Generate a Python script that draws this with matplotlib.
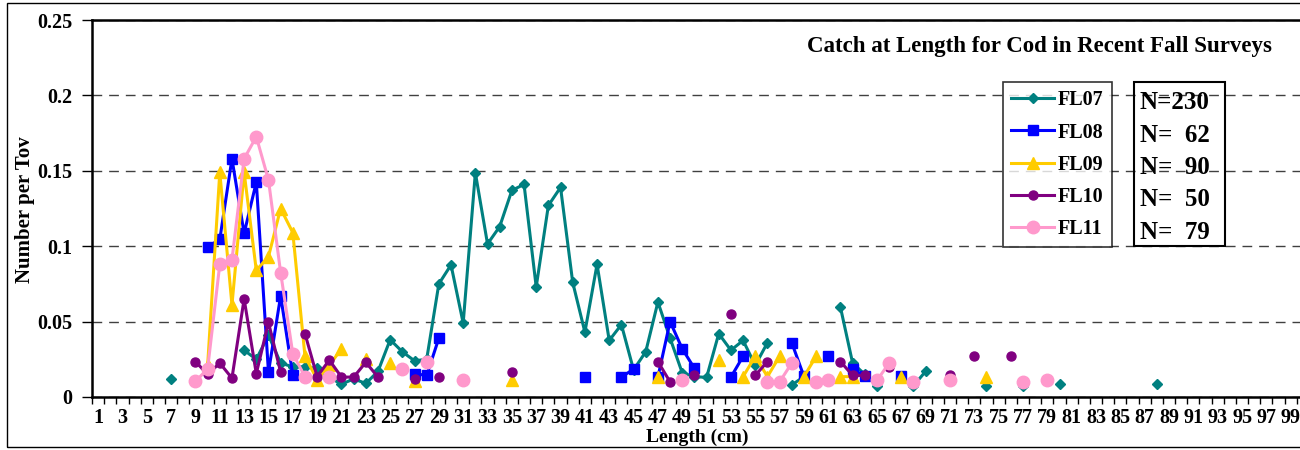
import numpy as np
import matplotlib.pyplot as plt
from matplotlib.patches import Rectangle

plt.rcParams['font.family'] = ['Liberation Serif', 'DejaVu Serif']
plt.rcParams['font.weight'] = 'bold'
plt.rcParams['axes.labelweight'] = 'bold'

# 长度类别 1..100
lengths = np.arange(1, 101)

fl07_len = [7, 13, 14, 15, 16, 17, 18, 19, 20, 21, 22, 23, 24, 25, 26, 27, 28, 29, 30,
            31, 32, 33, 34, 35, 36, 37, 38, 39, 40, 41, 42, 43, 44, 45, 46, 47, 48, 49,
            50, 51, 52, 53, 54, 55, 56, 58, 59, 62, 63, 64, 65, 68, 69, 74, 77, 80, 88]
fl07_val = [0.012, 0.031, 0.025, 0.041, 0.0225, 0.020, 0.020, 0.019, 0.013, 0.0085,
            0.012, 0.009, 0.017, 0.038, 0.030, 0.024, 0.025, 0.075, 0.0876, 0.049,
            0.1487, 0.1015, 0.113, 0.137, 0.141, 0.073, 0.127, 0.139, 0.076, 0.043,
            0.088, 0.0375, 0.048, 0.018, 0.030, 0.063, 0.039, 0.016, 0.0135, 0.013,
            0.042, 0.031, 0.0375, 0.021, 0.036, 0.008, 0.0135, 0.0595, 0.0225, 0.015,
            0.0075, 0.0075, 0.017, 0.0075, 0.0075, 0.0085, 0.0088]

fl08_len = [10, 11, 12, 13, 14, 15, 16, 17, 27, 28, 29, 41, 44, 45, 47, 48, 49, 50,
            53, 54, 58, 59, 61, 63, 64, 67]
fl08_val = [0.0995, 0.1045, 0.158, 0.1085, 0.1425, 0.0165, 0.067, 0.0145, 0.0155,
            0.0143, 0.039, 0.0132, 0.0132, 0.0185, 0.0132, 0.050, 0.032, 0.019,
            0.0132, 0.027, 0.036, 0.0136, 0.027, 0.0185, 0.0136, 0.0136]

fl09_len = [10, 11, 12, 13, 14, 15, 16, 17, 18, 19, 20, 21, 23, 25, 27, 35, 47, 52,
            54, 55, 56, 57, 59, 60, 62, 63, 67, 74]
fl09_val = [0.021, 0.149, 0.061, 0.149, 0.084, 0.093, 0.125, 0.109, 0.027, 0.0115,
            0.021, 0.032, 0.025, 0.0225, 0.0105, 0.011, 0.0135, 0.0245, 0.0135, 0.027,
            0.0135, 0.027, 0.0135, 0.027, 0.0135, 0.0135, 0.0135, 0.0135]

fl10_len = [9, 10, 11, 12, 13, 14, 15, 16, 18, 19, 20, 21, 22, 23, 24, 27, 29, 35,
            47, 48, 50, 53, 55, 56, 62, 63, 64, 66, 71, 73, 76]
fl10_val = [0.0235, 0.015, 0.0225, 0.0125, 0.065, 0.0155, 0.0495, 0.0165, 0.042,
            0.0135, 0.0245, 0.0132, 0.0132, 0.023, 0.0132, 0.012, 0.0132, 0.0165,
            0.0235, 0.010, 0.0143, 0.055, 0.0143, 0.0235, 0.0235, 0.0143, 0.0143,
            0.020, 0.0148, 0.0275, 0.0275]

fl11_len = [9, 10, 11, 12, 13, 14, 15, 16, 17, 18, 20, 26, 28, 31, 49, 56, 57, 58,
            60, 61, 65, 66, 68, 71, 77, 79]
fl11_val = [0.0103, 0.0187, 0.088, 0.091, 0.158, 0.1726, 0.144, 0.0825, 0.0287,
            0.0135, 0.0132, 0.0187, 0.023, 0.0115, 0.0115, 0.010, 0.010, 0.0225,
            0.010, 0.0115, 0.011, 0.0225, 0.010, 0.011, 0.010, 0.0115]

series_names = ['FL07', 'FL08', 'FL09', 'FL10', 'FL11']
series_n = ['N=230', 'N=  62', 'N=  90', 'N=  50', 'N=  79']


def full(lens, vals):
    # 缺失长度用 NaN，线条在空值处断开（同 Excel）
    y = np.full(len(lengths), np.nan)
    y[np.array(lens) - 1] = vals
    return y


styles = [
    dict(color='#008080', marker='D', markersize=5.5),
    dict(color='#0000FF', marker='s', markersize=6.5),
    dict(color='#FFCC00', marker='^', markersize=8),
    dict(color='#800080', marker='o', markersize=6.5),
    dict(color='#FF99CC', marker='o', markersize=9),
]
data = [full(fl07_len, fl07_val), full(fl08_len, fl08_val), full(fl09_len, fl09_val),
        full(fl10_len, fl10_val), full(fl11_len, fl11_val)]

fig = plt.figure(figsize=(13, 4.5), dpi=100)
ax = fig.add_axes([92 / 1300, 53 / 450, 1217 / 1300, 377 / 450])

for name, y, st in zip(series_names, data, styles):
    ax.plot(lengths, y, linewidth=2.2, label=name, **st)

ax.set_xlim(0.5, 100.5)
ax.set_ylim(0, 0.25)
ax.set_yticks(np.arange(0, 0.2501, 0.05))
ax.set_yticklabels(['0', '0.05', '0.1', '0.15', '0.2', '0.25'], fontsize=14.5)
ax.set_xticks(lengths[::2])
ax.set_xticklabels([str(v) for v in lengths[::2]], fontsize=14.5)
ax.set_xticks(np.arange(0.5, 101, 1), minor=True)
ax.tick_params(axis='x', which='major', length=0, pad=8)
ax.tick_params(axis='x', which='minor', length=5, width=1, direction='out')
ax.tick_params(axis='y', length=7, width=1, direction='out', pad=7)
ax.grid(True, axis='y', linestyle=(0, (7, 5)), color='#404040', linewidth=1)

for s in ['left', 'bottom', 'top']:
    ax.spines[s].set_linewidth(1.8)
ax.spines['right'].set_visible(False)

# 坐标轴标题
fig.text(697 / 1300, 1 - 437 / 450, 'Length (cm)', fontsize=14, ha='center', va='center')
fig.text(25 / 1300, 1 - 210 / 450, 'Number per Tov', fontsize=15, rotation=90,
         ha='center', va='center')
ax.text((1272 - 92) / 1217, (397 - 46) / 377, 'Catch at Length for Cod in Recent Fall Surveys',
        transform=ax.transAxes, fontsize=16.5, ha='right', va='center')

leg = ax.legend(loc='upper left', bbox_to_anchor=(1003 / 1300, 1 - 82 / 450),
                bbox_transform=fig.transFigure, fontsize=14.5, frameon=True,
                fancybox=False, handlelength=2.1, labelspacing=0.6,
                borderaxespad=0, borderpad=0.42, handletextpad=0.2)
leg.get_frame().set_edgecolor('black')
leg.get_frame().set_linewidth(1.2)

# N 框
fig.patches.append(Rectangle((1134 / 1300, 1 - 246 / 450), 91 / 1300, 164 / 450,
                             transform=fig.transFigure, fill=False,
                             edgecolor='black', linewidth=1.5))
for i, t in enumerate(series_n):
    fig.text(1140 / 1300, 1 - (109 + i * 32.5) / 450, t, fontsize=18, va='baseline')

# 外框
fig.patches.append(Rectangle((7 / 1300, 3 / 450), 1400 / 1300, 444 / 450,
                             transform=fig.transFigure, fill=False,
                             edgecolor='black', linewidth=1))

plt.savefig('out.png', dpi=100)
